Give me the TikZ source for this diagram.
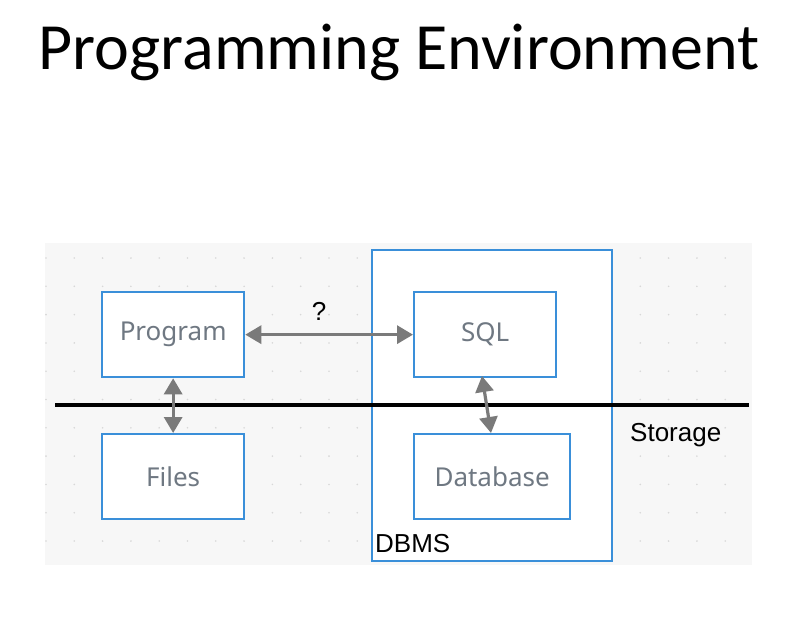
\documentclass[tikz,border=0pt]{standalone}
\usepackage{fontspec}
\setmainfont{Liberation Sans}
\newfontfamily\titlefont{Carlito}
\newfontfamily\boxfont{Noto Sans}
\usetikzlibrary{arrows.meta}
\definecolor{boxblue}{HTML}{3A8FD9}
\definecolor{arrgray}{HTML}{7A7A7A}
\definecolor{labgray}{HTML}{6F7882}
\definecolor{bggray}{HTML}{F7F7F7}
\definecolor{dotgray}{HTML}{D8D8D8}
\tikzset{
  box/.style={draw=boxblue, line width=2.3pt, fill=white, inner sep=0pt},
  boxlabel/.style={font=\boxfont\fontsize{26}{30}\selectfont, text=labgray},
  conn/.style={draw=arrgray, line width=3.2pt, {Triangle[length=16pt,width=18pt]}-{Triangle[length=16pt,width=18pt]}},
  plain/.style={font=\fontsize{26}{30}\selectfont, text=black, inner sep=0pt}
}
\begin{document}
\begin{tikzpicture}[x=1pt,y=-1pt]
\useasboundingbox (0,0) rectangle (788,633);
\fill[white] (0,0) rectangle (788,633);
% title
\node[font=\titlefont\fontsize{66}{70}\selectfont, inner sep=0pt, anchor=base] (title) at (399,69) {Programming Environment};
% background
\fill[bggray] (45,243) rectangle (752,565);
\foreach \i in {0,...,24} {
  \foreach \j in {0,...,10} {
    \fill[dotgray] ({46+28.3*\i},{258+28.3*\j}) circle (0.9pt);
  }
}
% DBMS container
\node[box, fill=white, minimum width=240pt, minimum height=311pt, anchor=north west] (dbms) at (371,249) {};
\node[plain, anchor=base west] (dbmslab) at (375,552) {DBMS};
% boxes
\node[box, minimum width=142pt, minimum height=85pt, anchor=north west] (program) at (101,291) {};
\node[boxlabel] at (program.center) {Program};
\node[box, minimum width=142pt, minimum height=85pt, anchor=north west] (files) at (101,433) {};
\node[boxlabel] at (files.center) {Files};
\node[box, minimum width=142pt, minimum height=85pt, anchor=north west] (sql) at (413,291) {};
\node[boxlabel] at (sql.center) {SQL};
\node[box, minimum width=156pt, minimum height=85pt, anchor=north west] (db) at (413,433) {};
\node[boxlabel] at (db.center) {Database};
% storage line
\coordinate (sl) at (55,405);
\coordinate (sr) at (749,405);
\draw[black, line width=3.5pt] (sl) -- (sr);
\node[plain, anchor=base west] (storage) at (630,441) {Storage};
% connectors
\draw[conn] (program.east) -- (sql.west);
\node[plain] (q) at (319,311) {?};
\draw[conn] (program.south) -- (files.north);
\coordinate (s1) at (482,376);
\coordinate (d1) at (491,433);
\draw[conn] (s1) -- (d1);
\end{tikzpicture}
\end{document}
